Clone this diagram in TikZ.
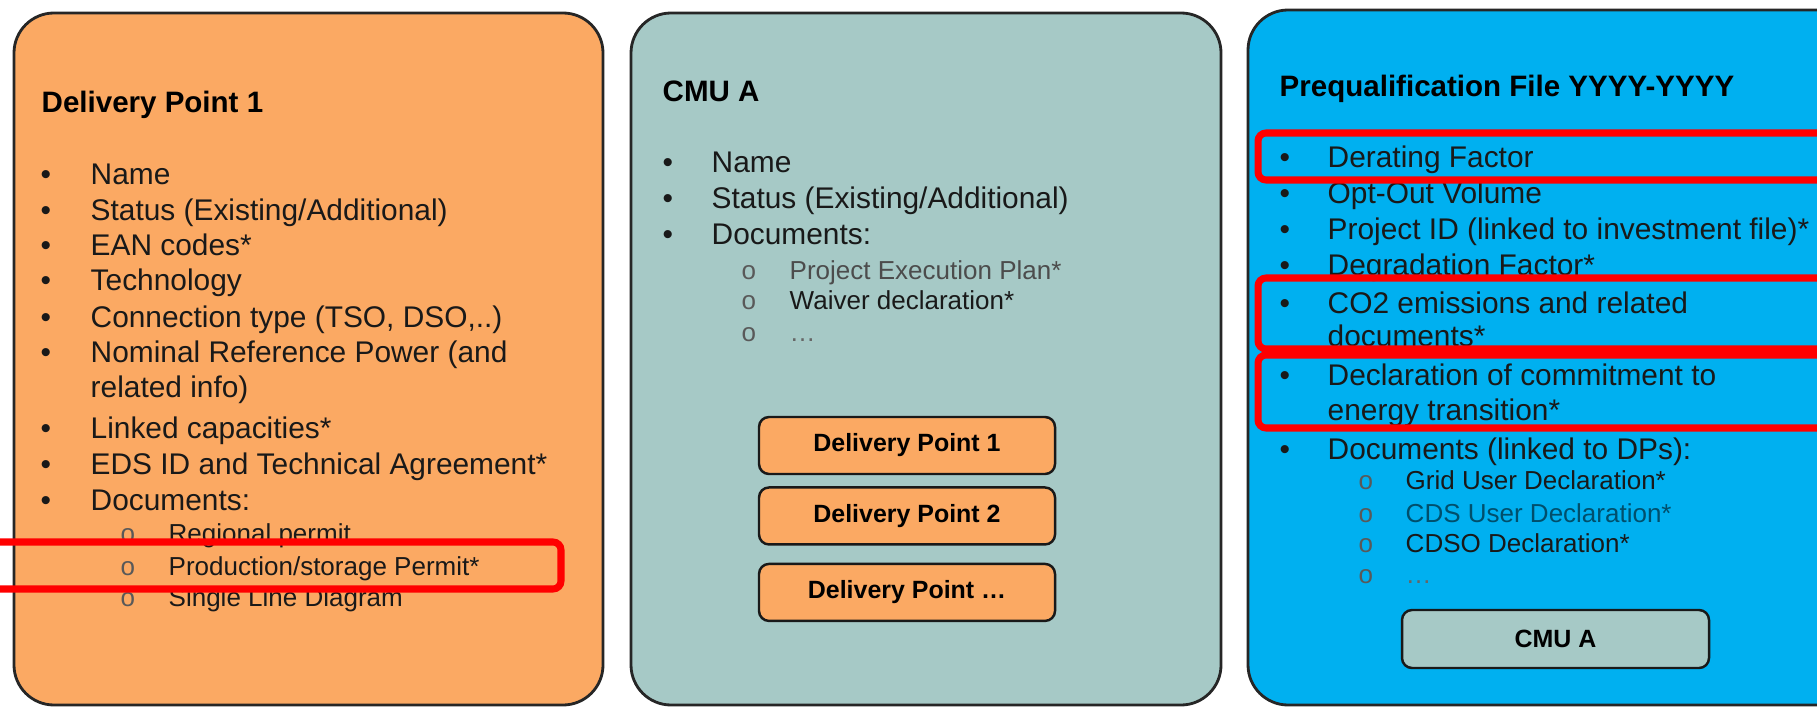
\documentclass[tikz,border=0pt]{standalone}
\usepackage{fontspec}
\setmainfont{Liberation Sans}
\usetikzlibrary{positioning}

\definecolor{dporange}{RGB}{251,169,99}
\definecolor{cmuteal}{RGB}{166,201,198}
\definecolor{pqblue}{RGB}{0,176,240}

\begin{document}
\begin{tikzpicture}[
    panel/.style = {draw=black!85, line width=0.8pt, rounded corners=0.4cm},
    head/.style = {anchor=base west, inner sep=0pt, font=\fontsize{8.4}{10}\selectfont\bfseries},
    txt/.style = {anchor=base west, inner sep=0pt, text=black!90, font=\fontsize{8.5}{10}\selectfont},
    subtxt/.style = {anchor=base west, inner sep=0pt, text=black!90, font=\fontsize{7.4}{9}\selectfont},
    bull/.style = {txt},
    circ/.style = {subtxt, text=black!65},
    smallbox/.style = {draw=black!90, line width=0.7pt, rounded corners=0.1cm, inner sep=0pt,
                       minimum height=0.57cm, font=\fontsize{7.1}{9}\selectfont\bfseries},
    hilite/.style = {draw=red, line width=2pt, rounded corners=0.08cm}]
    \clip (0,0) rectangle (18.17,7.07);

    % panels
    \draw[panel, fill=dporange] (0.14,0.02) rectangle (6.03,6.94);
    \draw[panel, fill=cmuteal] (6.31,0.02) rectangle (12.21,6.94);
    \draw[panel, fill=pqblue] (12.48,0.02) rectangle (18.60,6.97);

    % delivery point
    \node[head] (dptitle) at (0.41,5.94) {Delivery Point 1};
    \foreach \y/\t [count=\i] in {5.22/Name, 4.86/{Status (Existing/Additional)}, 4.51/EAN codes*,
        4.16/Technology, 3.80/{Connection type (TSO, DSO,..)}, 3.45/Nominal Reference Power (and,
        3.10/related info), 2.69/Linked capacities*, 2.33/EDS ID and Technical Agreement*, 1.97/Documents:}
        \node[txt] (dpitem\i) at (0.90,\y) {\t};
    \foreach \y [count=\i] in {5.22,4.86,4.51,4.16,3.80,3.45,2.69,2.33,1.97}
        \node[bull] (dpbul\i) at (0.40,\y) {\textbullet};
    \foreach \y/\t [count=\i] in {1.65/Regional permit, 1.32/{Production/storage Permit*}, 1.01/Single Line Diagram} {
        \node[circ] (dpo\i) at (1.20,\y) {o};
        \node[subtxt] (dpsub\i) at (1.68,\y) {\t};
    }

    % cmu
    \node[head] (cmutitle) at (6.62,6.05) {CMU A};
    \foreach \y/\t [count=\i] in {5.34/Name, 4.98/{Status (Existing/Additional)}, 4.62/Documents:} {
        \node[bull] (cmubul\i) at (6.62,\y) {\textbullet};
        \node[txt] (cmuitem\i) at (7.11,\y) {\t};
    }
    \foreach \y [count=\i] in {4.28,3.97,3.66}
        \node[circ] (cmuo\i) at (7.41,\y) {o};
    \node[subtxt, text=black!70] (cmusub1) at (7.89,4.28) {Project Execution Plan*};
    \node[subtxt] (cmusub2) at (7.89,3.97) {Waiver declaration*};
    \node[subtxt, text=black!60] (cmusub3) at (7.89,3.66) {…};

    \node[smallbox, fill=dporange, minimum width=2.96cm] (dp1) at (9.07,2.615) {Delivery Point 1};
    \node[smallbox, fill=dporange, minimum width=2.96cm, below=0.11cm of dp1] (dp2) {Delivery Point 2};
    \node[smallbox, fill=dporange, minimum width=2.96cm, below=0.17cm of dp2] (dp3) {Delivery Point …};

    % prequalification file
    \node[head] (pqtitle) at (12.79,6.10) {Prequalification File YYYY-YYYY};
    \foreach \y/\t [count=\i] in {5.39/Derating Factor, 5.03/Opt-Out Volume, 4.67/Project ID (linked to investment file)*,
        4.31/Degradation Factor*, 3.94/CO2 emissions and related, 3.60/documents*,
        3.22/Declaration of commitment to, 2.87/energy transition*, 2.48/Documents (linked to DPs):}
        \node[txt] (pqitem\i) at (13.27,\y) {\t};
    \foreach \y [count=\i] in {5.39,5.03,4.67,4.31,3.94,3.22,2.48}
        \node[bull] (pqbul\i) at (12.79,\y) {\textbullet};
    \foreach \y [count=\i] in {2.18,1.85,1.55,1.24}
        \node[circ] (pqo\i) at (13.58,\y) {o};
    \node[subtxt] (pqsub1) at (14.05,2.18) {Grid User Declaration*};
    \node[subtxt, text=black!55!pqblue] (pqsub2) at (14.05,1.85) {CDS User Declaration*};
    \node[subtxt] (pqsub3) at (14.05,1.55) {CDSO Declaration*};
    \node[subtxt, text=black!60] (pqsub4) at (14.05,1.24) {…};

    \node[smallbox, fill=cmuteal, minimum width=3.07cm, minimum height=0.58cm] (cmubox) at (15.555,0.68) {CMU A};

    % red highlights
    \draw[hilite] (-0.20,1.18) rectangle (5.61,1.65);
    \draw[hilite] (12.58,5.27) rectangle (18.50,5.74);
    \draw[hilite] (12.58,3.58) rectangle (18.50,4.29);
    \draw[hilite] (12.58,2.79) rectangle (18.50,3.52);
\end{tikzpicture}
\end{document}
